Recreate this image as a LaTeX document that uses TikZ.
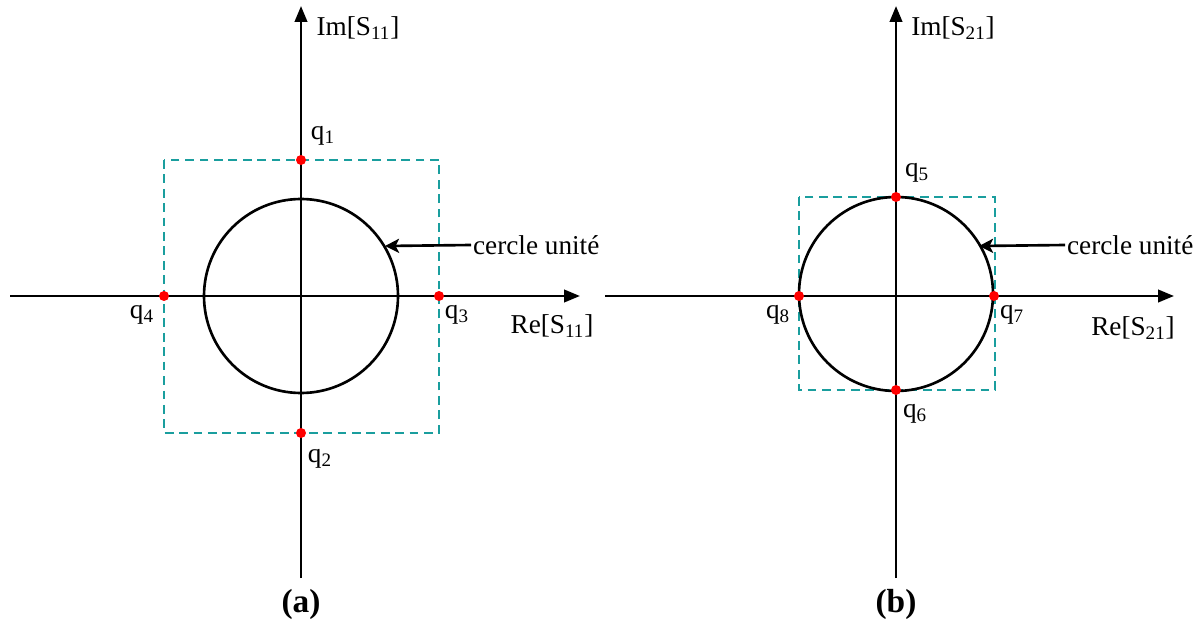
\documentclass[tikz,border=0pt]{standalone}
\usepackage{fontspec}
\setmainfont{Liberation Serif}
\usepackage{xcolor}
\definecolor{tealbox}{HTML}{1A9E9E}
\definecolor{pointred}{HTML}{FF0000}
\usetikzlibrary{arrows.meta, positioning}
\newcommand{\idx}[1]{\textsubscript{#1}}

\begin{document}
\begin{tikzpicture}[
  x=0.02cm, y=-0.02cm,
  every node/.style={font=\fontsize{15.5}{18}\selectfont, inner sep=1pt},
  axis/.style={-{Triangle[length=9pt, width=7pt]}, line width=1.5pt, black},
  unitcircle/.style={line width=1.5pt, black},
  boxline/.style={dashed, dash pattern=on 5pt off 3.2pt, tealbox, line width=1.5pt},
  qpoint/.style={circle, fill=pointred, inner sep=0pt, minimum size=0.2cm},
  qlabel/.style={font=\fontsize{15.5}{18}\selectfont},
  pointer/.style={-{Stealth[length=8pt, width=8pt, inset=2pt]}, line width=1.5pt, black},
  caption/.style={font=\fontsize{19}{22}\selectfont\bfseries}
]
  \useasboundingbox (0,0) rectangle (1202,621);

  % panel (a)
  \coordinate (aW) at (10,296);
  \coordinate (aE) at (580,296);
  \coordinate (aS) at (301,578);
  \coordinate (aN) at (301,6);
  \coordinate (aO) at (301,296);
  \draw[boxline] (164,160) rectangle (439,433);
  \draw[unitcircle] (aO) circle[radius=97];
  \draw[axis] (aW) -- (aE);
  \draw[axis] (aS) -- (aN);
  \node[qpoint] (q1) at (301,160) {};
  \node[qpoint] (q2) at (301,433) {};
  \node[qpoint] (q3) at (439,296) {};
  \node[qpoint] (q4) at (164,296) {};
  \node[qlabel] (q1l) at (323,136) {q\idx{1}};
  \node[qlabel] (q2l) at (320,459) {q\idx{2}};
  \node[qlabel] (q3l) at (457,315) {q\idx{3}};
  \node[qlabel] (q4l) at (142,315) {q\idx{4}};
  \node (ima) at (358,28) {Im[S\idx{11}]};
  \node (rea) at (552,326) {Re[S\idx{11}]};
  \node[anchor=west] (cua) at (471,245) {cercle unité};
  \coordinate (cuaTip) at (385,246);
  \draw[pointer] (cua.west) -- (cuaTip);
  \node[caption] (capa) at (301,604) {(a)};

  % panel (b)
  \coordinate (bW) at (605,296);
  \coordinate (bE) at (1174,296);
  \coordinate (bS) at (896,578);
  \coordinate (bN) at (896,6);
  \coordinate (bO) at (896,294);
  \draw[boxline] (799,197) rectangle (995,390);
  \draw[unitcircle] (bO) circle[radius=97];
  \draw[axis] (bW) -- (bE);
  \draw[axis] (bS) -- (bN);
  \node[qpoint] (q5) at (896,197) {};
  \node[qpoint] (q6) at (896,390) {};
  \node[qpoint] (q7) at (994,296) {};
  \node[qpoint] (q8) at (799,296) {};
  \node[qlabel] (q5l) at (917,173) {q\idx{5}};
  \node[qlabel] (q6l) at (915,414) {q\idx{6}};
  \node[qlabel] (q7l) at (1012,315) {q\idx{7}};
  \node[qlabel] (q8l) at (778,315) {q\idx{8}};
  \node (imb) at (953,28) {Im[S\idx{21}]};
  \node (reb) at (1133,328) {Re[S\idx{21}]};
  \node[anchor=west] (cub) at (1065,245) {cercle unité};
  \coordinate (cubTip) at (979,246);
  \draw[pointer] (cub.west) -- (cubTip);
  \node[caption] (capb) at (896,604) {(b)};
\end{tikzpicture}
\end{document}
